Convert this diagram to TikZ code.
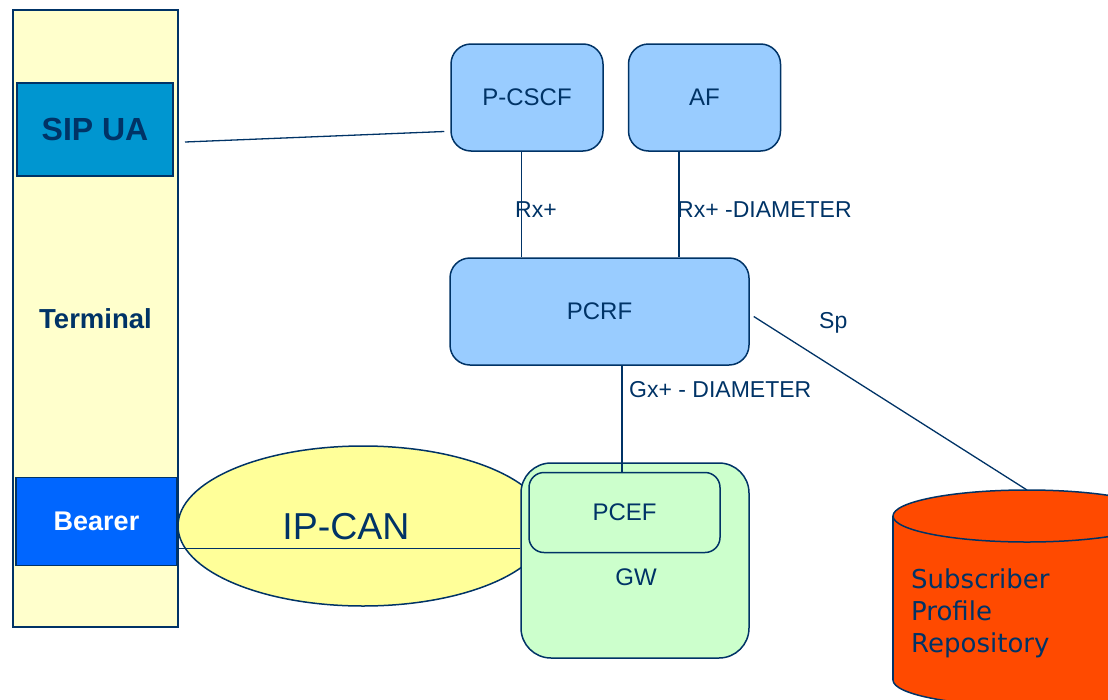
\documentclass[tikz,border=0pt]{standalone}
\usepackage{fontspec}
\setmainfont{Liberation Sans}
\newfontfamily\reposfont{DejaVu Sans}
\usetikzlibrary{shapes.geometric}

\definecolor{navy}{RGB}{0,51,102}
\definecolor{termyellow}{HTML}{FFFFCC}
\definecolor{sipblue}{HTML}{0096D0}
\definecolor{bearerblue}{HTML}{0066FF}
\definecolor{fnblue}{HTML}{99CCFF}
\definecolor{canyellow}{HTML}{FFFF99}
\definecolor{gwgreen}{HTML}{CCFFCC}
\definecolor{repoorange}{HTML}{FF4A00}

\begin{document}
\begin{tikzpicture}[x=1pt, y=-1pt,
    box/.style={draw=navy, line width=1.5pt, inner sep=0pt, text=navy},
    fn/.style={box, fill=fnblue, rounded corners=20pt, minimum height=107pt,
      font=\fontsize{24}{28}\selectfont},
    link/.style={draw=navy, line width=1.3pt},
    lbl/.style={text=navy, inner sep=0pt, anchor=west, font=\fontsize{23}{27}\selectfont}]

  \useasboundingbox (0,0) rectangle (1108,699);
  \clip (0,0) rectangle (1108,699);

  % terminal stack (left)
  \node[box, fill=termyellow, minimum width=165pt, minimum height=617pt,
    font=\bfseries\fontsize{27.5}{32}\selectfont] (terminal) at (95.5,318.5) {Terminal};
  \node[box, fill=sipblue, line width=2pt, minimum width=156pt, minimum height=93pt,
    font=\bfseries\fontsize{32}{36}\selectfont] (sipua) at (95,129) {SIP UA};
  \node[box, fill=bearerblue, text=white, minimum width=161pt, minimum height=88pt,
    font=\bfseries\fontsize{27}{31}\selectfont] (bearer) at (96.5,521.5) {Bearer};

  % access network
  \node[box, ellipse, fill=canyellow, minimum width=370pt, minimum height=160pt] (ipcanarea) at (363,526) {};
  \node[text=navy, font=\fontsize{37.5}{42}\selectfont] (ipcan) at (346,527) {IP-CAN};

  % gateway with PCEF
  \node[box, fill=gwgreen, rounded corners=30pt, minimum width=228pt, minimum height=195pt] (gw) at (635,560.5) {};
  \node[box, fill=gwgreen, rounded corners=15pt, minimum width=191pt, minimum height=80pt,
    font=\fontsize{24}{28}\selectfont] (pcef) at (624.5,512.5) {PCEF};
  \node[text=navy, font=\fontsize{24}{28}\selectfont] (gwname) at (636,577.5) {GW};

  % control plane
  \node[fn, minimum width=152pt] (pcscf) at (527,97.5) {P-CSCF};
  \node[fn, minimum width=152pt] (af) at (704.5,97.5) {AF};
  \node[fn, minimum width=299pt] (pcrf) at (599.5,311.5) {PCRF};

  % repository cylinder
  \filldraw[draw=navy, fill=repoorange, line width=1.5pt] (1027,680) ellipse [x radius=134, y radius=26];
  \fill[repoorange] (893,516) rectangle (1161,680);
  \draw[navy, line width=1.5pt] (893,516) -- (893,680);
  \filldraw[draw=navy, fill=repoorange, line width=1.5pt] (1027,516) ellipse [x radius=134, y radius=26];
  \coordinate (repotop) at (1027,490);
  \node[anchor=west, align=left, inner sep=0pt, text=navy,
    font=\reposfont\fontsize{26}{32}\selectfont] (repo) at (911,613) {Subscriber\\Profile\\Repository};

  % interfaces
  \draw[link] ([shift={(11,13)}]sipua.east) -- ([shift={(-6,34)}]pcscf.west);
  \draw[link] ([xshift=-5.5pt]pcscf.south) -- ([xshift=-5.5pt]pcscf.south |- pcrf.north);
  \draw[link] ([xshift=-25.5pt]af.south) -- ([xshift=-25.5pt]af.south |- pcrf.north);
  \draw[link] ([xshift=22.5pt]pcrf.south) -- ([xshift=22.5pt]pcrf.south |- pcef.north);
  \draw[link] ([shift={(4,5)}]pcrf.east) -- (repotop);
  \draw[link] ([shift={(0,27)}]bearer.east) -- ([shift={(0,27)}]bearer.east -| gw.west);

  \node[lbl] (rxpcscf) at (515,210) {Rx+};
  \node[lbl] (rxaf) at (677,210) {Rx+ -DIAMETER};
  \node[lbl] (gx) at (629,390) {Gx+ - DIAMETER};
  \node[lbl] (sp) at (819,323) {Sp};

\end{tikzpicture}
\end{document}
